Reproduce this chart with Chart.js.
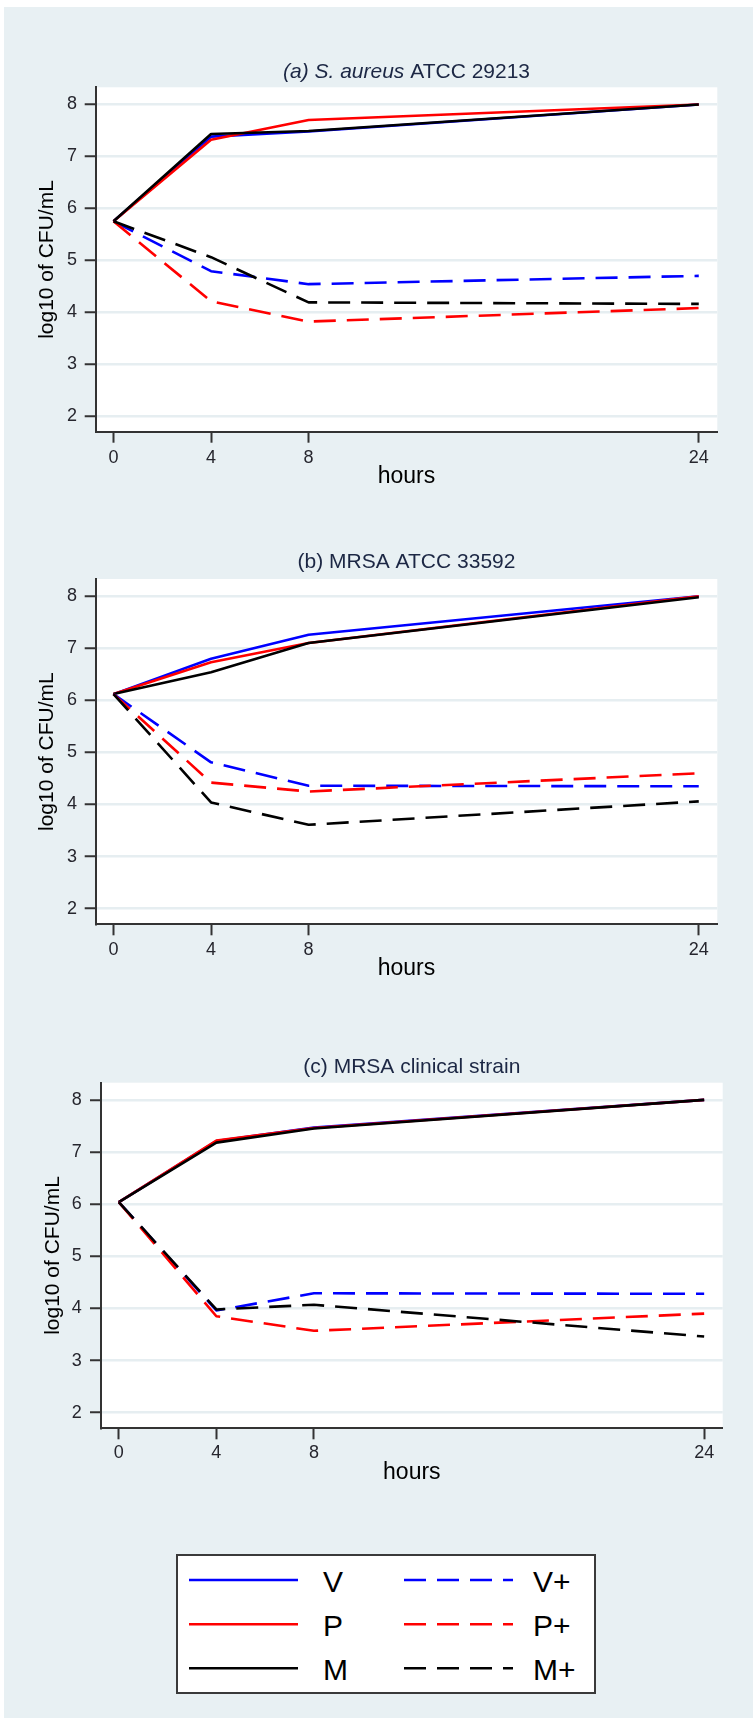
<!DOCTYPE html>
<html>
<head>
<meta charset="utf-8">
<script src="https://cdn.jsdelivr.net/npm/chart.js@4.4.1/dist/chart.umd.min.js"></script>
<style>
  html, body { margin: 0; padding: 0; background: #fff; }
  body { width: 756px; height: 1723px; position: relative; overflow: hidden; font-family: "Liberation Sans", Arial, sans-serif; }
  #bg { position: absolute; left: 4px; top: 7px; width: 749px; height: 1711px; background: #e8f0f3; }
  .panel { position: absolute; left: 0; }
  #legend { position: absolute; left: 0; top: 0; }
</style>
</head>
<body>
<div id="bg"></div>
<canvas id="chartA" class="panel" width="756" height="500" style="top:0px"></canvas>
<canvas id="chartB" class="panel" width="756" height="500" style="top:500px"></canvas>
<canvas id="chartC" class="panel" width="756" height="500" style="top:1000px"></canvas>
<svg id="legend" width="756" height="1723"></svg>

<script>
// x values (hours) and axis ticks
const hours = [0, 4, 8, 24];
const hourTicks = [0, 4, 8, 24];
const logTicks = [2, 3, 4, 5, 6, 7, 8];

const seriesNames = ['V', 'P', 'M', 'V+', 'P+', 'M+'];
const seriesColors = ['#0000ff', '#ff0000', '#000000', '#0000ff', '#ff0000', '#000000'];
const seriesDashed = [false, false, false, true, true, true];

// (a) S. aureus ATCC 29213
const saV = [5.75, 7.38, 7.48, 8.00];
const saP = [5.75, 7.32, 7.70, 8.00];
const saM = [5.75, 7.43, 7.49, 8.00];
const saVplus = [5.75, 4.79, 4.54, 4.70];
const saPplus = [5.75, 4.21, 3.82, 4.08];
const saMplus = [5.75, 5.06, 4.19, 4.16];

// (b) MRSA ATCC 33592
const mrV = [6.12, 6.80, 7.26, 8.00];
const mrP = [6.12, 6.73, 7.10, 8.00];
const mrM = [6.12, 6.54, 7.10, 7.98];
const mrVplus = [6.12, 4.81, 4.36, 4.35];
const mrPplus = [6.12, 4.42, 4.25, 4.60];
const mrMplus = [6.12, 4.04, 3.61, 4.06];

// (c) MRSA clinical strain
const clV = [6.04, 7.21, 7.47, 8.00];
const clP = [6.04, 7.22, 7.46, 8.00];
const clM = [6.04, 7.18, 7.45, 8.00];
const clVplus = [6.04, 3.96, 4.29, 4.28];
const clPplus = [6.04, 3.85, 3.57, 3.90];
const clMplus = [6.04, 3.98, 4.07, 3.46];

const fontFam = '"Liberation Sans", Arial, sans-serif';
Chart.defaults.font.family = fontFam;

// white plot region behind the grid
const plotBg = {
  id: 'plotBg',
  beforeDraw(chart) {
    const a = chart.chartArea;
    const ctx = chart.ctx;
    ctx.save();
    ctx.fillStyle = '#ffffff';
    ctx.fillRect(a.left, a.top, a.right - a.left, a.bottom - a.top);
    ctx.restore();
  }
};

// panel title, with italic parts
const panelTitle = {
  id: 'panelTitle',
  afterDraw(chart, args, opts) {
    const ctx = chart.ctx;
    const a = chart.chartArea;
    ctx.save();
    ctx.fillStyle = '#1c2744';
    ctx.textBaseline = 'alphabetic';
    ctx.textAlign = 'left';
    const fonts = opts.parts.map(p => (p[1] ? 'italic ' : '') + '21px ' + fontFam);
    let total = 0;
    const widths = opts.parts.map((p, i) => {
      ctx.font = fonts[i];
      const w = ctx.measureText(p[0]).width;
      total += w;
      return w;
    });
    let x = (a.left + a.right) / 2 - total / 2;
    opts.parts.forEach((p, i) => {
      ctx.font = fonts[i];
      ctx.fillText(p[0], x, a.top - opts.gap);
      x += widths[i];
    });
    ctx.restore();
  }
};

function makeChart(id, series, cfg) {
  const datasets = series.map((vals, i) => ({
    label: seriesNames[i],
    data: hours.map((h, j) => ({ x: h, y: vals[j] })),
    borderColor: seriesColors[i],
    borderWidth: 2.6,
    borderDash: seriesDashed[i] ? [22, 11] : [],
    borderJoinStyle: 'round',
    pointRadius: 0,
    tension: 0,
    fill: false,
    order: 6 - i
  }));

  return new Chart(document.getElementById(id).getContext('2d'), {
    type: 'line',
    data: { datasets: datasets },
    plugins: [plotBg, panelTitle],
    options: {
      responsive: false,
      animation: false,
      devicePixelRatio: 1,
      events: [],
      layout: { padding: { top: cfg.padTop, right: cfg.padRight, bottom: 0, left: 0 } },
      plugins: {
        legend: { display: false },
        tooltip: { enabled: false },
        panelTitle: { parts: cfg.title, gap: cfg.titleGap }
      },
      scales: {
        x: {
          type: 'linear',
          min: -0.73,
          max: 24.76,
          afterBuildTicks: s => { s.ticks = hourTicks.map(v => ({ value: v })); },
          afterFit: s => { s.height = cfg.xAxisH; },
          grid: { drawOnChartArea: false, tickLength: 11, tickWidth: 2, tickColor: '#333' },
          border: { color: '#333', width: 2 },
          ticks: { padding: cfg.xTickPad - 1.2, color: '#26262e', font: { size: 18 }, maxRotation: 0 },
          title: { display: true, text: 'hours', color: '#000', font: { size: 23 }, padding: { top: 0, bottom: cfg.xTitlePad - 1.2 } }
        },
        y: {
          type: 'linear',
          min: 1.70,
          max: 8.33,
          afterBuildTicks: s => { s.ticks = logTicks.map(v => ({ value: v })); },
          afterFit: s => { s.width = cfg.yAxisW; },
          grid: { color: '#e6eef1', lineWidth: 2.5, tickLength: 11, tickWidth: 2, tickColor: '#333' },
          border: { color: '#333', width: 2 },
          ticks: { padding: cfg.yTickPad, color: '#26262e', font: { size: 18 } },
          title: { display: true, text: 'log10 of CFU/mL', color: '#000', font: { size: 21 }, padding: { top: cfg.yTitlePad, bottom: 0 } }
        }
      }
    }
  });
}

makeChart('chartA', [saV, saP, saM, saVplus, saPplus, saMplus], {
  title: [['(a) ', true], ['S. aureus', true], [' ATCC 29213', false]],
  titleGap: 9, padTop: 87.3, padRight: 38.7, yAxisW: 95.7, xAxisH: 68.3,
  xTickPad: 5.7, xTitlePad: 10.4, yTickPad: 7.7, yTitlePad: 35
});
makeChart('chartB', [mrV, mrP, mrM, mrVplus, mrPplus, mrMplus], {
  title: [['(b) MRSA ATCC 33592', false]],
  titleGap: 10.7, padTop: 79, padRight: 38.7, yAxisW: 95.7, xAxisH: 75.7,
  xTickPad: 5.1, xTitlePad: 18.4, yTickPad: 7.7, yTitlePad: 35
});
makeChart('chartC', [clV, clP, clM, clVplus, clPplus, clMplus], {
  title: [['(c) MRSA clinical strain', false]],
  titleGap: 9.4, padTop: 82.7, padRight: 33.3, yAxisW: 101, xAxisH: 71.7,
  xTickPad: 4.4, xTitlePad: 14.4, yTickPad: 8.3, yTitlePad: 41
});

// shared legend: two columns (plain / "+"), three rows
const svgNS = 'http://www.w3.org/2000/svg';
const legend = document.getElementById('legend');
function el(tag, attrs, text) {
  const e = document.createElementNS(svgNS, tag);
  for (const k in attrs) e.setAttribute(k, attrs[k]);
  if (text) e.textContent = text;
  legend.appendChild(e);
  return e;
}
el('rect', { x: 177, y: 1555, width: 418, height: 138, fill: '#fff', stroke: '#3a3a3a', 'stroke-width': 2 });
const rowY = [1580, 1624.3, 1668.3];
const colLineX = [189, 404];
const colTextX = [323, 533];
seriesNames.forEach((name, i) => {
  const col = seriesDashed[i] ? 1 : 0;
  const row = i % 3;
  el('line', {
    x1: colLineX[col], x2: colLineX[col] + 109, y1: rowY[row], y2: rowY[row],
    stroke: seriesColors[i], 'stroke-width': 2.5,
    'stroke-dasharray': seriesDashed[i] ? '22 11' : 'none'
  });
  el('text', { x: colTextX[col], y: rowY[row] + 11.5, 'font-size': 30, 'font-family': fontFam, fill: '#000' }, name);
});
</script>
</body>
</html>
